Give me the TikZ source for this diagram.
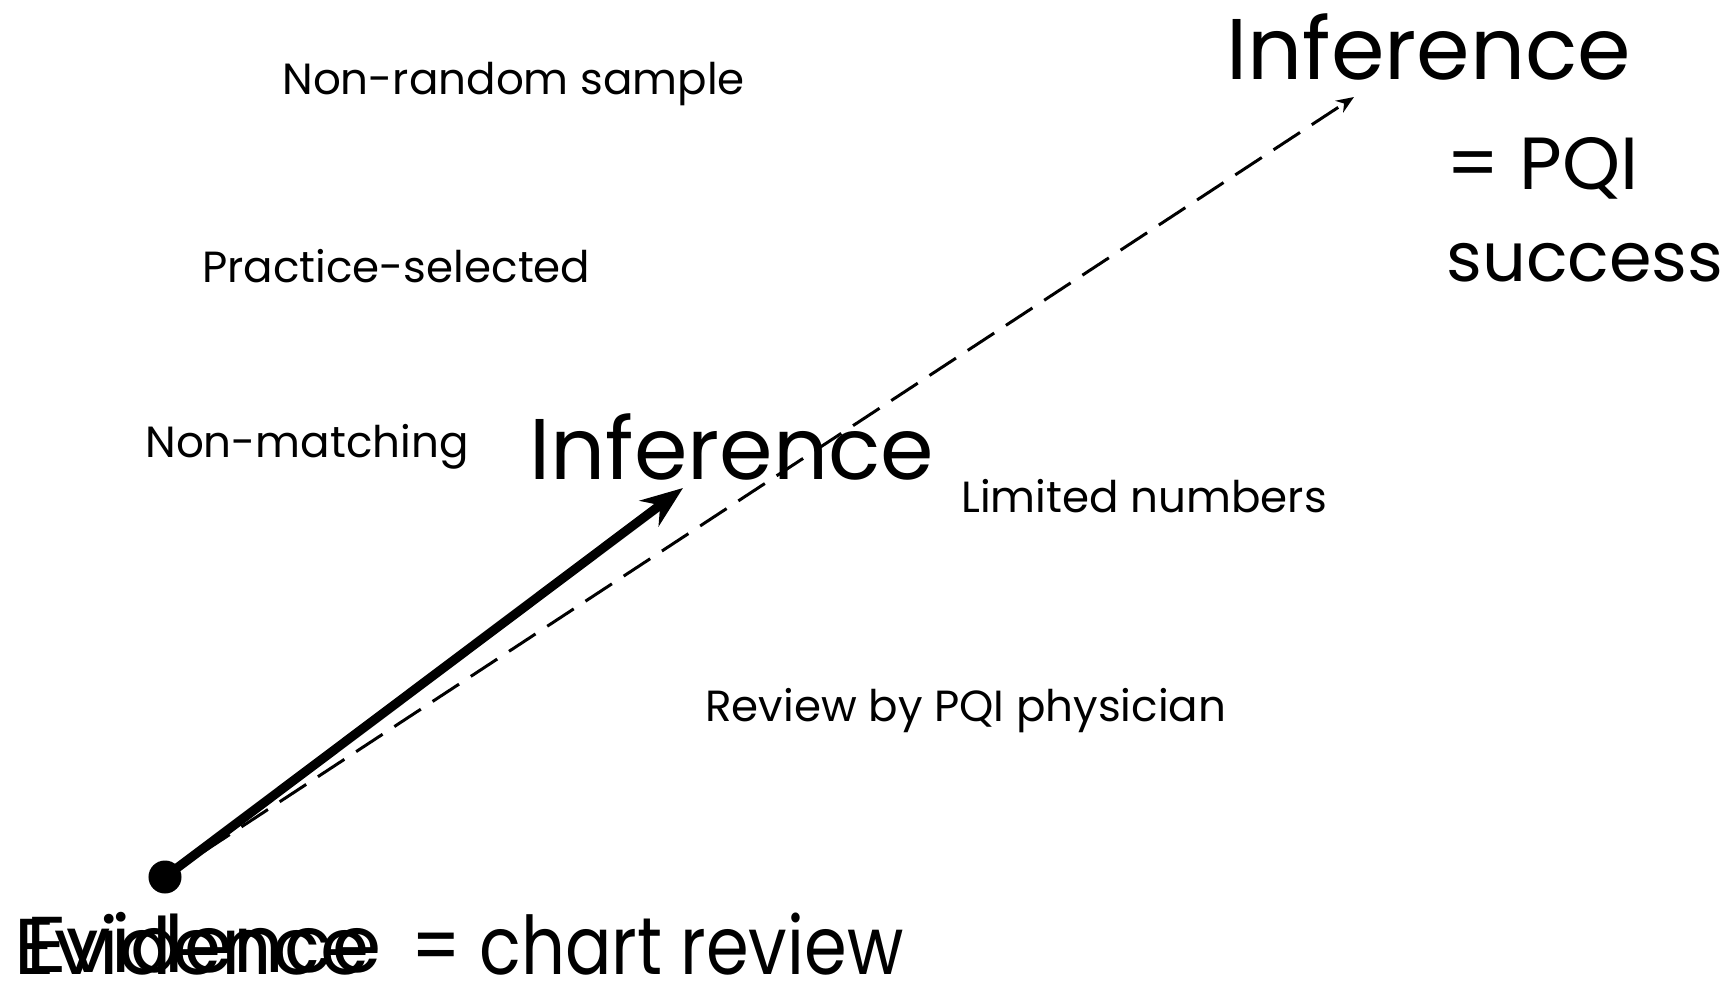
\documentclass[tikz,border=0pt]{standalone}
\usepackage{fontspec}
\setmainfont{Poppins}
\newfontfamily\narrowfont[FakeStretch=0.85]{Poppins}
\usetikzlibrary{arrows.meta}

\begin{document}
\begin{tikzpicture}[x=0.01cm, y=-0.01cm, >=Stealth, thick,
  every node/.style={inner sep=0pt, anchor=base west},
  small/.style={font=\fontsize{12.4}{15}\selectfont},
  big/.style={font=\fontsize{24.5}{30}\selectfont},
  mid/.style={font=\fontsize{19.5}{24}\selectfont}]
  \useasboundingbox (0,0) rectangle (1726,984);
  % Threats to validity
  \node[small] (nonrandom) at (281,94) {Non-random sample};
  \node[small] (practice) at (201,282) {Practice-selected};
  \node[small] (nonmatch) at (144,457) {Non-matching};
  \node[small] (limited) at (960,512) {Limited numbers};
  \node[small] (review) at (704,721) {Review by PQI physician};
  % Inferences
  \node[big] (infmid) at (528,479) {Inference};
  \node[big] (inftop) at (1225,79) {Inference};
  \node[mid, font=\fontsize{21}{25}\selectfont] (pqi) at (1445,189) {= PQI};
  \node[mid] (success) at (1445,281) {success};
  % Evidence (printed twice)
  \node[big, font=\fontsize{22.5}{27}\selectfont] (evA) at (13,974) {Evidence};
  \node[big, font=\fontsize{22.5}{27}\selectfont] (evB) at (25,972) {Evidence};
  \node[big, font=\narrowfont\fontsize{23}{27}\selectfont] (chart) at (410,974)
    {= chart review};
  % Arrows
  \node[circle, fill, minimum size=0.33cm, anchor=center] (dot) at (165,877) {};
  \coordinate (tipmid) at (683,488);
  \coordinate (tiptop) at (1354,97);
  \draw[->, line width=2.6pt, >={Stealth[length=12pt, width=9pt]}]
    (dot.center) -- (tipmid);
  \draw[->, line width=0.85pt, dash pattern=on 9pt off 4pt,
    >={Stealth[length=5pt, width=4pt]}] (dot.center) -- (tiptop);
\end{tikzpicture}
\end{document}
